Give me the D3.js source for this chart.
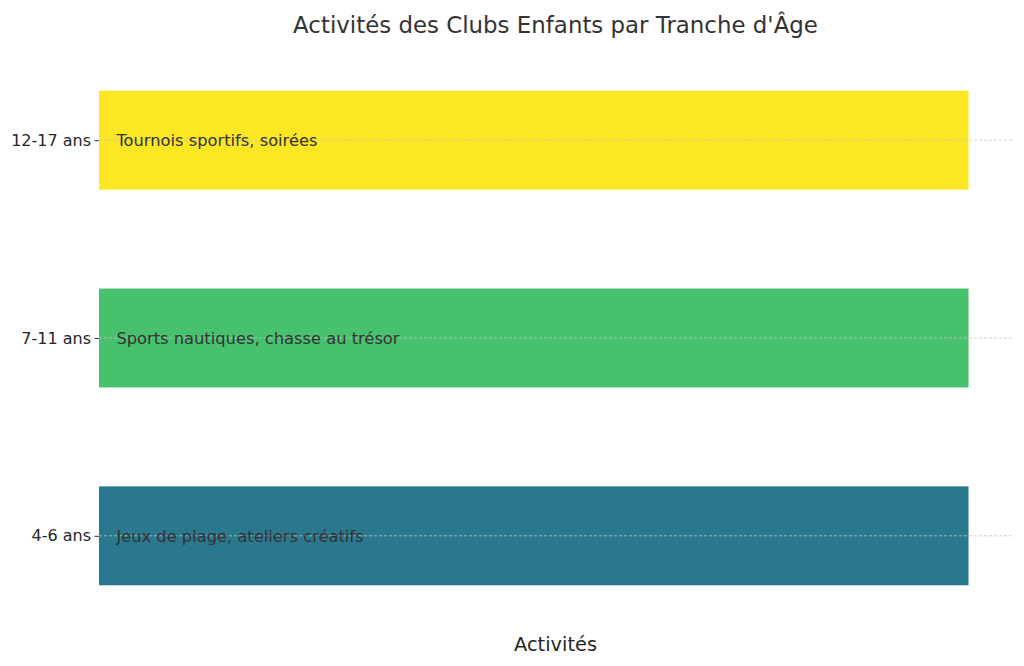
<!DOCTYPE html>
<html><head><meta charset="utf-8">
<script src="https://cdn.jsdelivr.net/npm/d3@7"></script>
<style>body{margin:0;background:#fff}svg{display:block}text{font-family:"DejaVu Sans",sans-serif}</style>
</head><body>
<script>
const categories = ["4-6 ans", "7-11 ans", "12-17 ans"];
const values = [1, 1, 1];
const activities = ["Jeux de plage, ateliers créatifs", "Sports nautiques, chasse au trésor", "Tournois sportifs, soirées"];
const colors = ["#2a788e", "#47c16e", "#fde725"];
const title = "Activités des Clubs Enfants par Tranche d'Âge";
const xLabel = "Activités";

const W = 1024, H = 666;
const L = 99, R = 1012, T = 66, B = 610;
const svg = d3.select("body").append("svg").attr("width", W).attr("height", H);

const x = d3.scaleLinear().domain([0, 1.05]).range([L, R]);
const y = d3.scaleLinear().domain([2.375, -0.375]).range([T, B]);
const barH = y(0) - y(0.5);

svg.append("g").selectAll("rect").data(categories).join("rect")
  .attr("x", x(0))
  .attr("y", (d, i) => y(i) - barH / 2)
  .attr("width", (d, i) => x(values[i]) - x(0))
  .attr("height", barH)
  .attr("fill", (d, i) => colors[i]);

// gridlines
svg.append("g").selectAll("line").data(categories).join("line")
  .attr("x1", L).attr("x2", R)
  .attr("y1", (d, i) => y(i)).attr("y2", (d, i) => y(i))
  .attr("stroke", "#c4c4c4")
  .attr("stroke-width", 0.8).attr("stroke-dasharray", "3,2");

// y axis
const yAxis = d3.axisLeft(y).tickValues([0, 1, 2]).tickFormat(i => categories[i]).tickSize(4.5).tickPadding(3.5);
const ga = svg.append("g").attr("transform", `translate(${L},0)`).call(yAxis);
ga.select(".domain").remove();
ga.selectAll(".tick line").attr("stroke", "#333").attr("stroke-width", 1);
ga.selectAll(".tick text").attr("font-size", 16).attr("fill", "#262626");

// bar labels
svg.append("g").selectAll("text").data(activities).join("text")
  .attr("x", x(0.02))
  .attr("y", (d, i) => y(i))
  .attr("dy", "0.35em")
  .attr("font-size", 16.3).attr("fill", "#333333")
  .text(d => d);

svg.append("text").attr("x", (L + R) / 2).attr("y", 33)
  .attr("text-anchor", "middle").attr("font-size", 22.9).attr("fill", "#333333").text(title);

svg.append("text").attr("x", (L + R) / 2).attr("y", 651)
  .attr("text-anchor", "middle").attr("font-size", 19.4).attr("fill", "#262626").text(xLabel);
</script>
</body></html>
